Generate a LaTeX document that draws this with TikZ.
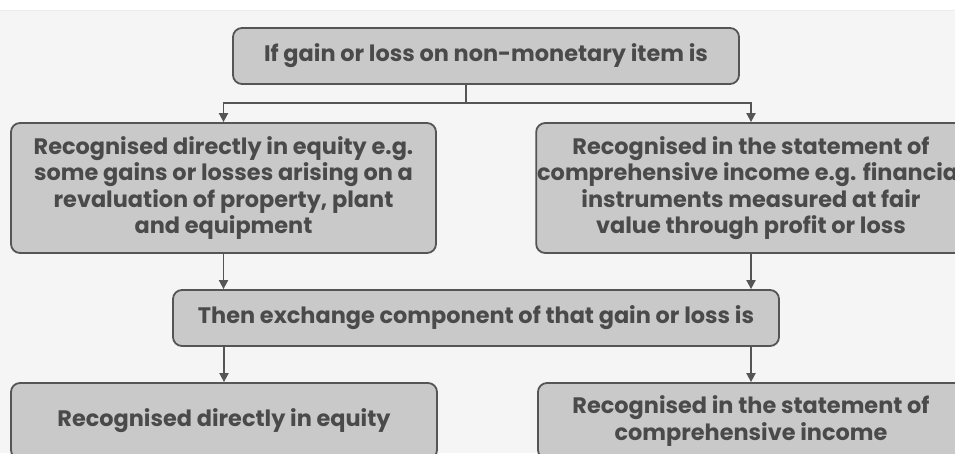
\documentclass[tikz,border=0pt]{standalone}
\usepackage{fontspec}
\setmainfont{Poppins}
\usepackage{tikz}
\usetikzlibrary{positioning, arrows.meta, calc}
\definecolor{boxfill}{HTML}{C9C9C9}
\definecolor{boxline}{HTML}{555555}
\definecolor{inktext}{HTML}{4A4A4A}
\definecolor{paper}{HTML}{F5F5F5}

\begin{document}
\begin{tikzpicture}[
  x=1pt, y=-1pt,
  >={Triangle[length=9pt, width=9pt]},
  every node/.style={font=\fontsize{22.4pt}{26.5pt}\selectfont\bfseries, text=inktext},
  box/.style ={align=center, rounded corners=9pt, inner sep=1pt, line width=1.8pt, draw=boxline, fill=boxfill},
  wide/.style={box, minimum height=56pt},
  tall/.style={box, minimum height=130pt},
  arr/.style ={->, line width=1.8pt, boxline},
  link/.style={line width=1.8pt, boxline},
]
  \useasboundingbox (0,0) rectangle (955,453);
  \clip (0,0) rectangle (955,453);
  \fill[paper] (0,0) rectangle (955,453);
  \fill[white] (0,0) rectangle (955,10);
  \draw[gray!15, line width=0.8pt] (0,10) -- (955,10);

  \node[wide, minimum width=506pt] (top) at (486,56) {If gain or loss on non-monetary item is};
  \node[tall, minimum width=425pt] (eqA) at (223.5,188)
    {Recognised directly in equity e.g.\\some gains or losses arising on a\\revaluation of property, plant\\and equipment};
  \node[tall, minimum width=428pt] (sciA) at (751,188)
    {Recognised in the statement of\\comprehensive income e.g. financial\\instruments measured at fair\\value through profit or loss};
  \node[wide, minimum width=606pt] (mid) at (476,318) {Then exchange component of that gain or loss is};
  \node[box, minimum width=426pt, minimum height=76pt] (eqB) at (224,421) {Recognised directly in equity};
  \node[box, minimum width=426pt, minimum height=76pt] (sciB) at (751,421) {Recognised in the statement of\\comprehensive income};

  \coordinate (split) at (466,103);
  \draw[link] (top.south -| split) -- (split);
  \draw[arr] (split) -| (eqA.north);
  \draw[arr] (split) -| (sciA.north);
  \foreach \a in {eqA,sciA}\draw[arr] (\a.south) -- (\a.south |- mid.north);
  \foreach \b in {eqB,sciB}\draw[arr] (mid.south -| \b.north) -- (\b.north);
\end{tikzpicture}
\end{document}
